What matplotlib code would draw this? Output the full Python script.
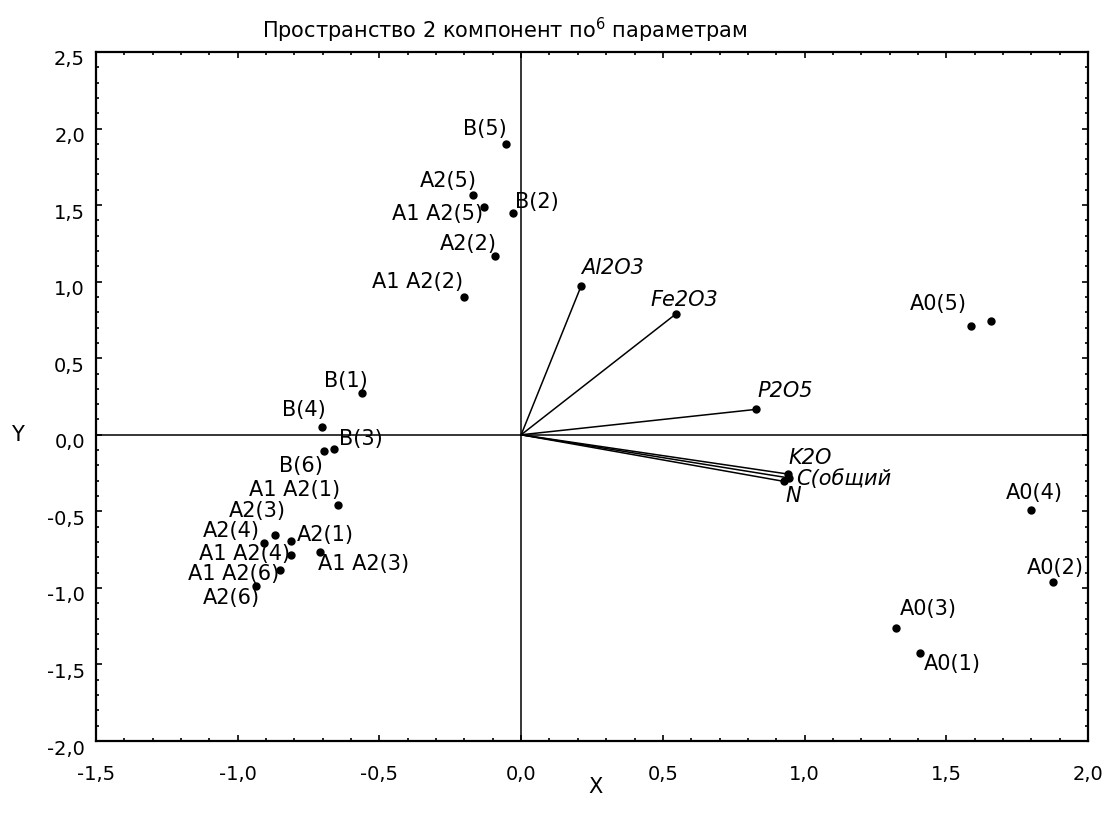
import numpy as np
import matplotlib.pyplot as plt
import matplotlib.transforms as mtransforms
from matplotlib.ticker import MultipleLocator, FuncFormatter

plt.rcParams['font.family'] = ['DejaVu Sans']
plt.rcParams['mathtext.fontset'] = 'dejavusans'

# observations (component scores)
obs_names = ["B(5)", "A2(5)", "A1 A2(5)", "B(2)", "A2(2)", "A1 A2(2)",
             "B(1)", "B(4)", "B(3)", "B(6)", "A1 A2(1)", "A2(3)", "A2(4)",
             "A2(1)", "A1 A2(4)", "A1 A2(3)", "A1 A2(6)", "A2(6)",
             "A0(5)", "", "A0(4)", "A0(2)", "A0(3)", "A0(1)"]
obs_x = [-0.055, -0.169, -0.130, -0.027, -0.092, -0.201,
         -0.562, -0.703, -0.659, -0.696, -0.646, -0.870, -0.909,
         -0.812, -0.812, -0.709, -0.851, -0.934,
         1.588, 1.659, 1.800, 1.877, 1.324, 1.408]
obs_y = [1.898, 1.568, 1.485, 1.450, 1.170, 0.898,
         0.273, 0.049, -0.093, -0.103, -0.456, -0.656, -0.704,
         -0.693, -0.787, -0.765, -0.882, -0.989,
         0.708, 0.743, -0.493, -0.963, -1.261, -1.424]

# variables (loadings)
var_names = ["Al2O3", "Fe2O3", "P2O5", "K2O", "С(общий", "N"]
var_x = [0.211, 0.546, 0.829, 0.940, 0.945, 0.926]
var_y = [0.969, 0.789, 0.166, -0.256, -0.282, -0.304]

# label placement: (dx, dy in pixels, ha, va)
obs_lab = [(1, 5, "right", "bottom"), (4, 4, "right", "bottom"), (-1, -7, "right", "center"),
           (2, 1, "left", "bottom"), (2, 2, "right", "bottom"), (-1, 5, "right", "bottom"),
           (6, 2, "right", "bottom"), (4, 7, "right", "bottom"), (5, 0, "left", "bottom"),
           (-1, -5, "right", "top"), (2, 5, "right", "bottom"), (11, 14, "right", "bottom"),
           (-4, 2, "right", "bottom"), (6, 6, "left", "center"), (-1, 1, "right", "center"),
           (-2, -2, "left", "top"), (-1, -4, "right", "center"), (4, -2, "right", "top"),
           (-4, 12, "right", "bottom"), (0, 0, "left", "bottom"), (3, 7, "center", "bottom"),
           (2, 4, "center", "bottom"), (3, 9, "left", "bottom"), (4, -1, "left", "top")]
var_lab = [(0, 8, "left", "bottom"), (-25, 4, "left", "bottom"), (1, 8, "left", "bottom"),
           (1, 6, "left", "bottom"), (7, -1, "left", "center"), (2, -5, "left", "top")]

fig = plt.figure(figsize=(11.05, 8.21), dpi=100)
ax = fig.add_axes([0.0869, 0.0974, 0.8977, 0.8393])

ax.axhline(0, color="black", lw=1.1, zorder=1)
ax.axvline(0, color="black", lw=1.1, zorder=1)

for x, y in zip(var_x, var_y):
    ax.plot([0, x], [0, y], color="black", lw=1.1, zorder=2)
ax.plot(var_x, var_y, "o", color="black", ms=5, zorder=3)
ax.plot(obs_x, obs_y, "o", color="black", ms=5, zorder=3)

fs = 15
for name, x, y, (dx, dy, ha, va) in zip(obs_names, obs_x, obs_y, obs_lab):
    if name:
        ax.annotate(name, (x, y), xytext=(dx, dy), textcoords="offset pixels",
                    ha=ha, va=va, fontsize=fs)
for name, x, y, (dx, dy, ha, va) in zip(var_names, var_x, var_y, var_lab):
    ax.annotate(name, (x, y), xytext=(dx, dy), textcoords="offset pixels",
                ha=ha, va=va, fontsize=fs, style="italic")

ax.set_xlim(-1.5, 2.0)
ax.set_ylim(-2.0, 2.5)
ax.xaxis.set_major_locator(MultipleLocator(0.5))
ax.xaxis.set_minor_locator(MultipleLocator(0.1))
ax.yaxis.set_major_locator(MultipleLocator(0.5))
ax.yaxis.set_minor_locator(MultipleLocator(0.1))
comma = FuncFormatter(lambda v, p: f"{v:.1f}".replace(".", ","))
ax.xaxis.set_major_formatter(comma)
ax.yaxis.set_major_formatter(comma)
ax.tick_params(which="both", direction="in", top=True, right=True, width=1.2)
ax.tick_params(which="major", length=4)
ax.tick_params(which="minor", length=2)
ax.tick_params(axis="x", which="major", pad=17, labelsize=14)
ax.tick_params(axis="y", which="major", pad=8, labelsize=14)
for spine in ax.spines.values():
    spine.set_linewidth(1.6)

shift = mtransforms.ScaledTranslation(0, -6 / 100, fig.dpi_scale_trans)
for lab in ax.get_yticklabels():
    lab.set_transform(lab.get_transform() + shift)

fig.text(0.457, 0.963, "Пространство 2 компонент по$^{6}$ параметрам",
         ha="center", va="center", fontsize=15)
fig.text(0.539, 0.041, "X", ha="center", va="center", fontsize=fs)
fig.text(0.0154, 0.470, "Y", ha="center", va="center", fontsize=fs)

fig.savefig("out.png", dpi=100)
